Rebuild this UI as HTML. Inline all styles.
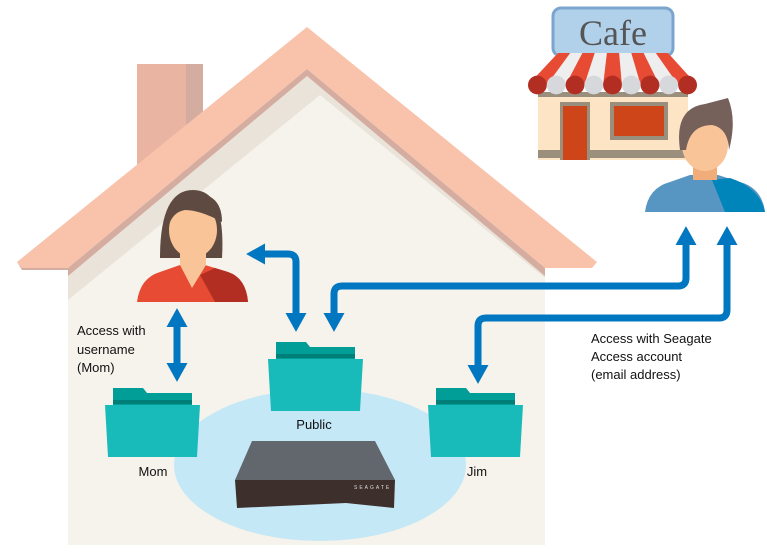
<!DOCTYPE html>
<html><head><meta charset="utf-8"><style>
html,body{margin:0;padding:0;background:#fff;}
svg{display:block;}
text{font-family:"Liberation Sans",Arial,sans-serif;font-size:13px;fill:#111;}
</style></head><body>
<svg width="767" height="554" viewBox="0 0 767 554" xmlns="http://www.w3.org/2000/svg">
<defs>
<marker id="ah" markerWidth="3" markerHeight="3" refX="1" refY="1.5" orient="auto" markerUnits="strokeWidth">
<path d="M0,0 L2.7,1.5 L0,3 z" fill="#0077c0"/></marker>
<marker id="ahs" markerWidth="3" markerHeight="3" refX="1" refY="1.5" orient="auto-start-reverse" markerUnits="strokeWidth">
<path d="M0,0 L2.7,1.5 L0,3 z" fill="#0077c0"/></marker>
</defs>
<!-- chimney -->
<rect x="137" y="64" width="49" height="110" fill="#eab4a3"/>
<rect x="186" y="64" width="17" height="100" fill="#d4aca0"/>
<!-- wall -->
<polygon points="307,76 545,268 545,545 68,545 68,268" fill="#e9e3da"/>
<polygon points="320,95 545,278 545,545 68,545 68,300" fill="#f6f2ec"/>
<!-- roof -->
<polygon points="307,27 597,262 592,268 545,268 307,69 68,268 22,268 17,262" fill="#f9c3ab"/>
<polygon points="307,69 545,268 545,276 307,76 68,276 68,268" fill="#d4aca0"/>
<polygon points="17,262 22,268 68,268 68,270 22,270" fill="#d4aca0"/>
<!-- ellipse -->
<ellipse cx="320" cy="465" rx="146" ry="76" fill="#c5e8f7"/>
<!-- device -->
<polygon points="252,441 375,441 395,480 235,480" fill="#62666d"/>
<polygon points="235,480 395,480 394,508 346,503 237,508" fill="#3d2f2c"/>
<text x="354" y="489" style="font-size:5px;fill:#ddd;letter-spacing:2px">SEAGATE</text>
<!-- folders -->
<g>
<path d="M113,388 h30 l4,5 h45 v12 h-79z" fill="#009e96"/>
<rect x="113" y="400" width="79" height="4" fill="#007f78"/>
<path d="M105,405 h95 l-3,52 h-89z" fill="#19bbba"/>
</g>
<g transform="translate(163,-46)">
<path d="M113,388 h30 l4,5 h45 v12 h-79z" fill="#009e96"/>
<rect x="113" y="400" width="79" height="4" fill="#007f78"/>
<path d="M105,405 h95 l-3,52 h-89z" fill="#19bbba"/>
</g>
<g transform="translate(323,0)">
<path d="M113,388 h30 l4,5 h45 v12 h-79z" fill="#009e96"/>
<rect x="113" y="400" width="79" height="4" fill="#007f78"/>
<path d="M105,405 h95 l-3,52 h-89z" fill="#19bbba"/>
</g>
<!-- arrows -->
<g fill="none" stroke="#0077c0" stroke-width="7">
<path d="M177,320 V370" marker-start="url(#ahs)" marker-end="url(#ah)"/>
<path d="M258,254 H288 Q296,254 296,262 V320" marker-start="url(#ahs)" marker-end="url(#ah)"/>
<path d="M686,238 V278 Q686,286 678,286 H342 Q334,286 334,294 V320" marker-start="url(#ahs)" marker-end="url(#ah)"/>
<path d="M727,238 V310 Q727,318 719,318 H486 Q478,318 478,326 V372" marker-start="url(#ahs)" marker-end="url(#ah)"/>
</g>
<!-- mom -->
<path d="M137,302 Q140,278 160,272 L180,265 H205 L228,272 Q246,278 248,302z" fill="#e84b33"/>
<path d="M200,275 L215,268 L228,272 Q246,278 248,302 H215z" fill="#b32e22"/>
<path d="M160,258 Q160,190 193,190 Q226,190 222,258z" fill="#5e4a40"/>
<rect x="180" y="245" width="26" height="20" fill="#f9c497"/>
<ellipse cx="193" cy="230" rx="24" ry="28" fill="#f9c497"/>
<path d="M168,228 Q165,195 193,193 Q222,193 222,222 Q200,210 185,210 Q172,212 168,228z" fill="#5e4a40"/>
<path d="M180,265 L192,288 L206,265z" fill="#f9c497"/>
<!-- cafe -->
<rect x="553" y="8" width="120" height="48" rx="8" fill="#b1d0ea" stroke="#7ba4cf" stroke-width="3"/>
<text x="613" y="45" text-anchor="middle" style="font-family:'Liberation Serif',serif;font-size:36px;fill:#555">Cafe</text>
<rect x="538" y="95" width="150" height="65" fill="#fde4c4"/>
<rect x="538" y="150" width="150" height="8" fill="#9a8f7d"/>
<rect x="560" y="102" width="30" height="58" fill="#9a8f7d"/><rect x="563" y="106" width="24" height="54" fill="#cd4518"/>
<rect x="610" y="102" width="58" height="38" fill="#9a8f7d"/><rect x="614" y="106" width="50" height="30" fill="#cd4518"/>
<rect x="538" y="92" width="150" height="5" fill="#9a8f7d"/>
<polygon points="558,53 668,53 697,85 528,85" fill="#eeeeee"/>
<g fill="#e84b33">
<polygon points="558,53 570.2,53 546.8,85 528,85"/>
<polygon points="582.4,53 594.7,53 584.3,85 565.6,85"/>
<polygon points="606.9,53 619.1,53 621.9,85 603.1,85"/>
<polygon points="631.3,53 643.6,53 659.4,85 640.7,85"/>
<polygon points="655.8,53 668,53 697,85 678.2,85"/>
</g>
<g>
<circle cx="537.4" cy="85" r="9.4" fill="#b32e22"/><circle cx="556.2" cy="85" r="9.4" fill="#d6d8db"/><circle cx="575" cy="85" r="9.4" fill="#b32e22"/><circle cx="593.8" cy="85" r="9.4" fill="#d6d8db"/><circle cx="612.5" cy="85" r="9.4" fill="#b32e22"/><circle cx="631.3" cy="85" r="9.4" fill="#d6d8db"/><circle cx="650" cy="85" r="9.4" fill="#b32e22"/><circle cx="668.8" cy="85" r="9.4" fill="#d6d8db"/><circle cx="687.6" cy="85" r="9.4" fill="#b32e22"/>
</g>
<!-- man -->
<path d="M645,212 Q648,188 670,182 L690,175 H718 L740,182 Q762,188 765,212z" fill="#5795c2"/>
<path d="M712,180 L730,178 Q760,188 765,212 H725z" fill="#0085bb"/>
<rect x="693" y="160" width="24" height="20" fill="#f0ad7a"/>
<ellipse cx="705" cy="145" rx="23" ry="26" fill="#f9c497"/>
<path d="M680,150 Q674,108 705,104 L728,98 Q737,120 729,150 Q728,128 712,125 Q690,125 686,150z" fill="#75605a"/>
<!-- labels -->
<text x="77" y="335">Access with</text>
<text x="77" y="354">username</text>
<text x="77" y="372">(Mom)</text>
<text x="314" y="429" text-anchor="middle">Public</text>
<text x="153" y="476" text-anchor="middle">Mom</text>
<text x="477" y="476" text-anchor="middle">Jim</text>
<text x="591" y="343">Access with Seagate</text>
<text x="591" y="361">Access account</text>
<text x="591" y="379">(email address)</text>
</svg>
</body></html>
